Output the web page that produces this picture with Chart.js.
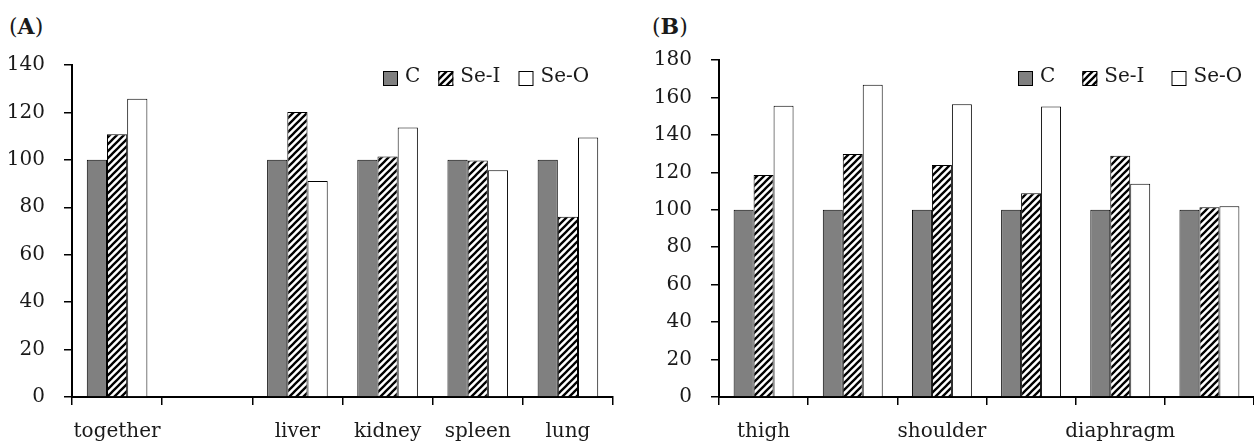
<!DOCTYPE html>
<html>
<head>
<meta charset="utf-8">
<script src="https://cdn.jsdelivr.net/npm/chart.js@4/dist/chart.umd.min.js"></script>
<style>
  body { margin: 0; background: #fff; width: 1254px; height: 441px; overflow: hidden; position: relative; }
  canvas { position: absolute; top: 0; }
  #chartA { left: 0; }
  #chartB { left: 625px; }
  .panel { position: absolute; font-family: "DejaVu Serif", serif; font-size: 22px; color: #1a1a1a; }
  .panel b { font-weight: bold; }
</style>
</head>
<body>
<div class="panel" style="left:9px; top:13px;">(<b>A</b>)</div>
<div class="panel" style="left:652px; top:13px;">(<b>B</b>)</div>
<canvas id="chartA" width="625" height="441"></canvas>
<canvas id="chartB" width="629" height="441"></canvas>
<script>
// panel A: organs
const organLabels = ["together", "", "liver", "kidney", "spleen", "lung"];
const organC = [100, null, 100, 100, 100, 100];
const organSeI = [110.8, null, 120.2, 101.4, 99.7, 76.0];
const organSeO = [125.8, null, 91.1, 113.6, 95.6, 109.4];

// panel B: muscles
const muscleLabels = ["thigh", "", "shoulder", "", "diaphragm", ""];
const muscleC = [100, 100, 100, 100, 100, 100];
const muscleSeI = [118.6, 129.8, 123.9, 108.8, 128.9, 101.3];
const muscleSeO = [155.6, 166.8, 156.4, 155.1, 113.9, 101.9];

const seriesNames = ["C", "Se-I", "Se-O"];

const FONT = "DejaVu Serif";
const INK = "#1a1a1a";

const makeHatch = () => {
  const s = 7;
  const c = document.createElement("canvas");
  c.width = s;
  c.height = s;
  const ctx = c.getContext("2d");
  ctx.fillStyle = "#fff";
  ctx.fillRect(0, 0, s, s);
  ctx.strokeStyle = "#000";
  ctx.lineWidth = 2.3;
  ctx.beginPath();
  ctx.moveTo(-2, 2); ctx.lineTo(2, -2);
  ctx.moveTo(0, s); ctx.lineTo(s, 0);
  ctx.moveTo(s - 2, s + 2); ctx.lineTo(s + 2, s - 2);
  ctx.stroke();
  return ctx.createPattern(c, "repeat");
};
const hatch = makeHatch();
const fills = ["#808080", hatch, "#ffffff"];

// legend drawn in the top right like the original figure
const boxLegend = {
  id: "boxLegend",
  afterDraw(chart, args, opts) {
    const ctx = chart.ctx;
    ctx.save();
    ctx.font = "20px " + FONT;
    ctx.textBaseline = "alphabetic";
    let x = opts.x;
    chart.data.datasets.forEach((ds) => {
      ctx.fillStyle = ds.backgroundColor;
      ctx.fillRect(x, opts.y, 15, 15);
      ctx.strokeStyle = "#000";
      ctx.lineWidth = 1;
      ctx.strokeRect(x + 0.5, opts.y + 0.5, 14, 14);
      ctx.fillStyle = INK;
      ctx.fillText(ds.label, x + 22, opts.y + 11);
      x += 22 + ctx.measureText(ds.label).width + opts.gap;
    });
    ctx.restore();
  },
};

const makeChart = (id, labels, c, sei, seo, yMax, cfg) => {
  return new Chart(document.getElementById(id), {
    type: "bar",
    data: {
      labels: labels,
      datasets: [c, sei, seo].map((vals, i) => ({
        label: seriesNames[i],
        data: vals,
        backgroundColor: fills[i],
        borderColor: "#000",
        borderWidth: 1,
        categoryPercentage: 0.672,
        barPercentage: 1.0,
      })),
    },
    options: {
      responsive: false,
      animation: false,
      layout: { padding: { top: cfg.top, right: cfg.right, left: 0, bottom: 0 } },
      plugins: {
        legend: { display: false },
        tooltip: { enabled: false },
        boxLegend: { x: cfg.legendX, y: 71, gap: cfg.legendGap },
      },
      scales: {
        x: {
          afterFit: (scale) => { scale.height = 44; },
          grid: { drawOnChartArea: false, drawTicks: true, tickLength: 8, color: "#000", lineWidth: 1.5 },
          border: { color: "#000", width: 2 },
          ticks: { color: INK, font: { family: FONT, size: 20 }, padding: 15, autoSkip: false, maxRotation: 0 },
        },
        y: {
          min: 0,
          max: yMax,
          afterFit: (scale) => { scale.width = cfg.yWidth; },
          grid: { drawOnChartArea: false, drawTicks: true, tickLength: 8, color: "#000", lineWidth: 1.5 },
          border: { color: "#000", width: 2 },
          ticks: { stepSize: 20, color: INK, font: { family: FONT, size: 20 }, padding: 19 },
        },
      },
    },
    plugins: [boxLegend],
  });
};

makeChart("chartA", organLabels, organC, organSeI, organSeO, 140,
  { top: 65, right: 12, yWidth: 72, legendX: 383, legendGap: 18 });
makeChart("chartB", muscleLabels, muscleC, muscleSeI, muscleSeO, 180,
  { top: 60, right: 0, yWidth: 94, legendX: 393, legendGap: 27 });
</script>
</body>
</html>
